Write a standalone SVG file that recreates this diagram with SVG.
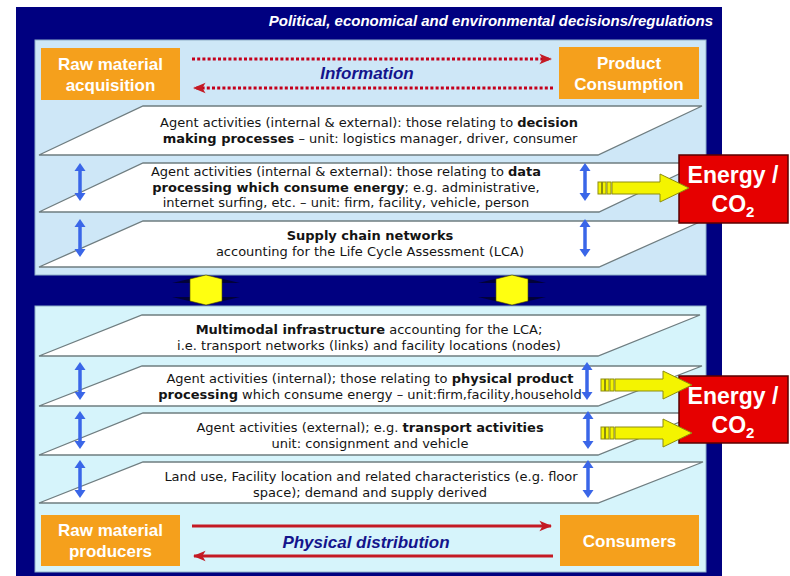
<svg xmlns="http://www.w3.org/2000/svg" width="790" height="576" viewBox="0 0 790 576">
  <defs>
    <style>
      .layer { fill: #ffffff; stroke: #6f7d80; stroke-width: 1.3; }
      .lt { font-family: "DejaVu Sans", Verdana, sans-serif; font-size: 13px; fill: #141414; text-anchor: middle; }
      .b { font-weight: bold; }
      .orange { fill: #f5a01c; }
      .otext { font-family: "Liberation Sans", Arial, sans-serif; font-size: 17px; font-weight: bold; fill: #ffffff; text-anchor: middle; }
      .flow { font-family: "Liberation Sans", Arial, sans-serif; font-size: 17px; font-weight: bold; font-style: italic; fill: #14148c; text-anchor: middle; }
      .info { fill: none; stroke: #c4001c; stroke-width: 3; stroke-dasharray: 3 2.2; }
      .phys { fill: none; stroke: #c41a24; stroke-width: 3; }
      .vblue { fill: none; stroke: #3a66e8; stroke-width: 3.5; }
      .energy { fill: #e60000; stroke: #5a0000; stroke-width: 1.5; }
      .etext { font-family: "Liberation Sans", Arial, sans-serif; font-size: 23px; font-weight: bold; fill: #ffffff; text-anchor: middle; }
      .yel { fill: #f4f400; stroke: #8c8c10; stroke-width: 1; }
    </style>
    <marker id="redHead" viewBox="0 0 12 10" refX="11" refY="5" markerWidth="4.2" markerHeight="4.2" orient="auto-start-reverse" markerUnits="strokeWidth">
      <path d="M0,0 L12,5 L0,10 L3,5 Z" fill="#c41a24"/>
    </marker>
    <!-- small vertical double arrow -->
    <g id="vArrow">
      <line class="vblue" x1="0" y1="6" x2="0" y2="32" />
      <path d="M0,0 L5.5,8 L-5.5,8 Z M0,38 L5.5,30 L-5.5,30 Z" fill="#3a66e8"/>
    </g>
    <!-- striped yellow arrow toward the energy box -->
    <g id="hArrow">
      <rect class="yel" x="0" y="-6" width="3.5" height="12"/>
      <rect class="yel" x="4.5" y="-6" width="3.5" height="12"/>
      <rect class="yel" x="9" y="-6" width="4" height="12"/>
      <path class="yel" d="M14,-6 L62,-6 L62,-14 L91,0 L62,14 L62,6 L14,6 Z"/>
    </g>
    <!-- yellow two-way link between the two panels -->
    <g id="linkArrow">
      <path d="M0,-15 L34,-7 L-34,-7 Z M0,15 L34,7 L-34,7 Z" fill="#02023a"/>
      <path d="M-16,-11 L0,-15 L16,-11 L16,11 L0,15 L-16,11 Z" fill="#ffff10" stroke="#505000" stroke-width="0.6"/>
    </g>
  </defs>

  <!-- outer frame -->
  <rect x="16" y="7" width="706" height="569" fill="#000080"/>
  <text x="713" y="26" font-family="Liberation Sans, Arial, sans-serif" font-size="15" font-weight="bold" font-style="italic" fill="#ffffff" text-anchor="end">Political, economical and environmental decisions/regulations</text>

  <!-- panels -->
  <rect id="upper-panel" x="35" y="40" width="671" height="235" fill="#cee7f7" stroke="#8fb0c8" stroke-width="1"/>
  <rect id="lower-panel" x="35" y="306" width="671" height="266" fill="#d6f4fb" stroke="#8fb0c8" stroke-width="1"/>

  <!-- upper layers -->
  <g id="layer-decision">
    <polygon class="layer" points="143,106 702,106 598,155 39,155"/>
    <text class="lt" x="369" y="127">Agent activities (internal &amp; external): those relating to <tspan class="b">decision</tspan></text>
    <text class="lt" x="370" y="143"><tspan class="b">making processes</tspan> – unit: logistics manager, driver, consumer</text>
  </g>
  <g id="layer-data">
    <polygon class="layer" points="143,163 702,163 599,212 39,212"/>
    <text class="lt" x="346" y="176">Agent activities (internal &amp; external): those relating to <tspan class="b">data</tspan></text>
    <text class="lt" x="346" y="192"><tspan class="b">processing which consume energy</tspan>; e.g. administrative,</text>
    <text class="lt" x="346" y="207">internet surfing, etc. – unit: firm, facility, vehicle, person</text>
  </g>
  <g id="layer-supply">
    <polygon class="layer" points="143,221 702,221 599,267 39,267"/>
    <text class="lt b" x="370" y="240">Supply chain networks</text>
    <text class="lt" x="370" y="256">accounting for the Life Cycle Assessment (LCA)</text>
  </g>

  <!-- lower layers -->
  <g id="layer-infra">
    <polygon class="layer" points="142,315 700,315 598,356 39,356"/>
    <text class="lt" x="369" y="334"><tspan class="b">Multimodal infrastructure</tspan> accounting for the LCA;</text>
    <text class="lt" x="369" y="350">i.e. transport networks (links) and facility locations (nodes)</text>
  </g>
  <g id="layer-physical">
    <polygon class="layer" points="142,366 702,366 598,406 39,406"/>
    <text class="lt" x="370" y="383">Agent activities (internal); those relating to <tspan class="b">physical product</tspan></text>
    <text class="lt" x="370" y="399"><tspan class="b">processing</tspan> which consume energy – unit:firm,facility,household</text>
  </g>
  <g id="layer-transport">
    <polygon class="layer" points="143,413 702,413 598,455 39,455"/>
    <text class="lt" x="370" y="432">Agent activities (external); e.g. <tspan class="b">transport activities</tspan></text>
    <text class="lt" x="370" y="448">unit: consignment and vehicle</text>
  </g>
  <g id="layer-landuse">
    <polygon class="layer" points="143,462 703,462 598,503 39,503"/>
    <text class="lt" x="371" y="481">Land use, Facility location and related characteristics (e.g. floor</text>
    <text class="lt" x="370" y="497">space); demand and supply derived</text>
  </g>

  <!-- end nodes -->
  <g id="raw-acquisition">
    <rect class="orange" x="41" y="48" width="139" height="52"/>
    <text class="otext" x="110.5" y="70">Raw material</text>
    <text class="otext" x="110.5" y="91">acquisition</text>
  </g>
  <g id="product-consumption">
    <rect class="orange" x="559" y="47" width="140" height="52"/>
    <text class="otext" x="629" y="69">Product</text>
    <text class="otext" x="629" y="90">Consumption</text>
  </g>
  <g id="raw-producers">
    <rect class="orange" x="41" y="515" width="139" height="51"/>
    <text class="otext" x="110.5" y="536">Raw material</text>
    <text class="otext" x="110.5" y="557">producers</text>
  </g>
  <g id="consumers">
    <rect class="orange" x="560" y="515" width="139" height="51"/>
    <text class="otext" x="629.5" y="547">Consumers</text>
  </g>

  <!-- energy outputs -->
  <g id="energy-upper">
    <rect class="energy" x="679" y="155" width="109" height="68"/>
    <text class="etext" x="733" y="183">Energy /</text>
    <text class="etext" x="733" y="212">CO<tspan font-size="15" dy="5">2</tspan></text>
  </g>
  <g id="energy-lower">
    <rect class="energy" x="679" y="376" width="109" height="67"/>
    <text class="etext" x="733" y="404">Energy /</text>
    <text class="etext" x="733" y="433">CO<tspan font-size="15" dy="5">2</tspan></text>
  </g>

  <!-- connectors -->
  <g id="connectors">
    <line class="info" x1="192" y1="59" x2="551" y2="59" marker-end="url(#redHead)"/>
    <line class="info" x1="553" y1="88" x2="194" y2="88" marker-end="url(#redHead)"/>
    <text class="flow" x="367" y="79">Information</text>

    <line class="phys" x1="192" y1="526" x2="551" y2="526" marker-end="url(#redHead)"/>
    <line class="phys" x1="553" y1="556" x2="194" y2="556" marker-end="url(#redHead)"/>
    <text class="flow" x="366" y="548">Physical distribution</text>

    <use href="#vArrow" x="80" y="163"/>
    <use href="#vArrow" x="80" y="219"/>
    <use href="#vArrow" x="585" y="163"/>
    <use href="#vArrow" x="585" y="219"/>
    <use href="#vArrow" x="80" y="362"/>
    <use href="#vArrow" x="587" y="362"/>
    <use href="#vArrow" x="80" y="411"/>
    <use href="#vArrow" x="588" y="411"/>
    <use href="#vArrow" x="80" y="460"/>
    <use href="#vArrow" x="588" y="460"/>

    <use href="#hArrow" x="598" y="188"/>
    <use href="#hArrow" x="601" y="385"/>
    <use href="#hArrow" x="601" y="433"/>

    <use href="#linkArrow" x="206" y="290"/>
    <use href="#linkArrow" x="512" y="290"/>
  </g>
</svg>
